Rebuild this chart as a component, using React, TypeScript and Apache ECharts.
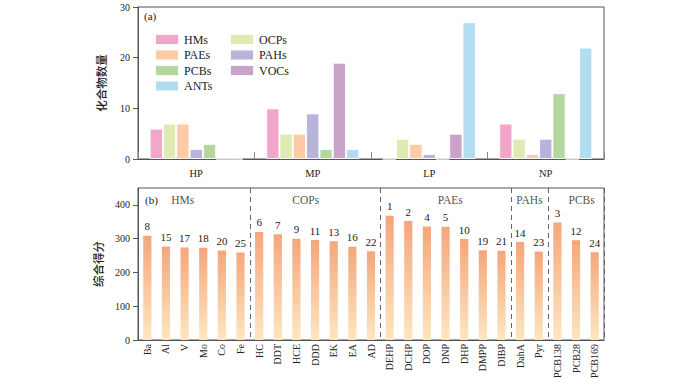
import React, { useEffect, useRef } from "react";
import * as echarts from "echarts";

// ---- Panel (a) data ----
const sites = ["HP", "MP", "LP", "NP"];
const classNames = ["HMs", "OCPs", "PAEs", "PAHs", "PCBs", "VOCs", "ANTs"];
const hms = [6, 10, 0, 7];
const ocps = [7, 5, 4, 4];
const paes = [7, 5, 3, 1];
const pahs = [2, 9, 1, 4];
const pcbs = [3, 2, 0, 13];
const vocs = [0, 19, 5, 0];
const ants = [0, 2, 27, 22];
const classColors = ["#f1a7c9", "#dfe9b2", "#fdcba6", "#b6b4d9", "#b3d79c", "#c9a3ca", "#b2dcef"];
const legendLeft = ["HMs", "PAEs", "PCBs", "ANTs"];
const legendRight = ["OCPs", "PAHs", "VOCs"];

// ---- Panel (b) data ----
const compounds = [
  "Ba", "Al", "V", "Mo", "Co", "Fe",
  "HC", "DDT", "HCE", "DDD", "EK", "EA", "AD",
  "DEHP", "DCHP", "DOP", "DNP", "DHP", "DMPP", "DIBP",
  "DahA", "Pyr",
  "PCB138", "PCB28", "PCB169",
];
const scores = [
  309, 277, 274, 273, 265, 259,
  320, 313, 300, 296, 292, 276, 263,
  368, 352, 336, 335, 299, 266, 264,
  290, 262,
  348, 295, 260,
];
const ranks = [
  8, 15, 17, 18, 20, 25,
  6, 7, 9, 11, 13, 16, 22,
  1, 2, 4, 5, 10, 19, 21,
  14, 23,
  3, 12, 24,
];
const groupNames = ["HMs", "COPs", "PAEs", "PAHs", "PCBs"];
const groupBoundaries = [6, 13, 20, 22];
const groupLabelPos = [2.4, 9.0, 16.75, 21.0, 23.8];
const groupLabelY = 413;

const serif = "'Liberation Serif', 'Times New Roman', serif";
const cjk = "'Noto Sans CJK SC', sans-serif";

export default function App() {
  const ref = useRef<HTMLDivElement>(null);
  useEffect(() => {
    if (!ref.current) return;
    const chart = echarts.init(ref.current, undefined, { renderer: "svg" });
    const topData = [hms, ocps, paes, pahs, pcbs, vocs, ants];
    const axisColor = "#555";
    const option: any = {
      animation: false,
      backgroundColor: "#fff",
      grid: [
        { left: 138, right: 96, top: 7, height: 152, show: true, borderColor: axisColor, borderWidth: 1 },
        { left: 138, right: 96, top: 188, height: 152, show: true, borderColor: axisColor, borderWidth: 1 },
      ],
      legend: [
        {
          data: legendLeft, orient: "vertical", left: 149, top: 28, itemWidth: 24, itemHeight: 11, itemGap: 2.5,
          icon: "rect", textStyle: { fontFamily: serif, fontSize: 12, color: "#222" },
        },
        {
          data: legendRight, orient: "vertical", left: 224, top: 28, itemWidth: 24, itemHeight: 11, itemGap: 2.5,
          icon: "rect", textStyle: { fontFamily: serif, fontSize: 12, color: "#222" },
        },
      ],
      xAxis: [
        {
          type: "category", gridIndex: 0, data: sites,
          axisLine: { lineStyle: { color: axisColor } },
          axisTick: { show: true, inside: true, length: 7, interval: 0, lineStyle: { color: "#888" } },
          axisLabel: { fontFamily: serif, fontSize: 10.5, color: "#222", margin: 9 },
          splitLine: { show: false },
        },
        {
          type: "category", gridIndex: 1, data: compounds,
          axisLine: { lineStyle: { color: axisColor } },
          axisTick: { show: false },
          axisLabel: { fontFamily: serif, fontSize: 10, color: "#222", rotate: 90, margin: 4, interval: 0 },
          splitLine: {
            show: true,
            interval: (index: number) => groupBoundaries.indexOf(index) >= 0,
            lineStyle: { color: "#666", type: [5, 4], width: 1 },
          },
        },
        { type: "value", gridIndex: 1, min: 0, max: 25, show: false },
      ],
      yAxis: [
        {
          type: "value", gridIndex: 0, min: 0, max: 30, interval: 10,
          name: "化合物数量", nameLocation: "middle", nameGap: 31,
          nameTextStyle: { fontFamily: cjk, fontSize: 11.5, fontWeight: 500, color: "#222" },
          axisLine: { show: true, lineStyle: { color: axisColor } },
          axisTick: { show: true, length: 5, lineStyle: { color: axisColor } },
          axisLabel: { fontFamily: serif, fontSize: 10, color: "#222", margin: 8 },
          splitLine: { show: false },
        },
        {
          type: "value", gridIndex: 1, min: 0, max: 450, interval: 100,
          name: "综合得分", nameLocation: "middle", nameGap: 31,
          nameTextStyle: { fontFamily: cjk, fontSize: 11.5, fontWeight: 500, color: "#222" },
          axisLine: { show: true, lineStyle: { color: axisColor } },
          axisTick: { show: true, length: 5, lineStyle: { color: axisColor } },
          axisLabel: { fontFamily: serif, fontSize: 10, color: "#222", margin: 8, showMaxLabel: false },
          splitLine: { show: false },
        },
      ],
      series: [
        ...classNames.map((n, i) => ({
          type: "bar", name: n, xAxisIndex: 0, yAxisIndex: 0, data: topData[i],
          barGap: "0%", barCategoryGap: "20%",
          itemStyle: { color: classColors[i], borderColor: "rgba(255,255,255,0.9)", borderWidth: 1 },
        })),
        {
          type: "bar", name: "score", xAxisIndex: 1, yAxisIndex: 1, data: scores, barWidth: "44%",
          itemStyle: {
            color: new echarts.graphic.LinearGradient(0, 0, 0, 1, [
              { offset: 0, color: "#f5a67b" },
              { offset: 1, color: "#fde7c1" },
            ]),
          },
          label: {
            show: true, position: "top", distance: 4, fontFamily: serif, fontSize: 11, color: "#222",
            formatter: (p: any) => String(ranks[p.dataIndex]),
          },
        },
        {
          type: "scatter", name: "groups", xAxisIndex: 2, yAxisIndex: 1, symbolSize: 0,
          data: groupLabelPos.map((x, i) => ({ value: [x, groupLabelY], name: groupNames[i] })),
          label: {
            show: true, position: "inside", fontFamily: serif, fontSize: 11.5, color: "#222",
            formatter: (p: any) => p.name,
          },
          itemStyle: { color: "transparent" },
        },
      ],
      graphic: [
        { type: "text", left: 144, top: 10, style: { text: "(a)", font: `11px ${serif}`, fill: "#222" } },
        { type: "text", left: 145, top: 194, style: { text: "(b)", font: `11px ${serif}`, fill: "#222" } },
      ],
    };
    chart.setOption(option);
    return () => chart.dispose();
  }, []);
  return (
    <div
      ref={ref}
      style={{ position: "fixed", left: 0, top: 0, width: 700, height: 387, background: "#fff" }}
    />
  );
}
